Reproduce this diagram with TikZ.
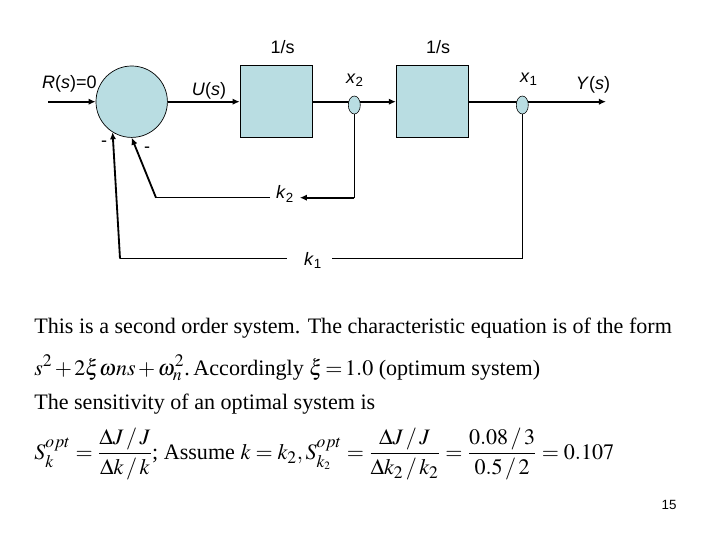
\documentclass[tikz,border=0pt]{standalone}
\usepackage{amsmath}
\usepackage{mathptmx}
\usepackage{fontspec}
\setmainfont{Liberation Serif}
\newfontfamily\labelfont{Liberation Sans}
\usepackage{tikz}
\usetikzlibrary{arrows.meta,shapes.geometric}
\definecolor{blockblue}{HTML}{B9DDE2}
\DeclareMathSizes{15.7}{15.7}{12.5}{8}
\newcommand{\sub}[1]{\textsubscript{\upshape #1}}
\tikzset{
  blockbox/.style={draw,fill=blockblue,line width=0.6pt,minimum width=1.81cm,minimum height=1.8cm,inner sep=0pt},
  sumnode/.style={draw,circle,fill=blockblue,line width=0.5pt,minimum size=1.785cm,inner sep=0pt},
  tapnode/.style={draw,ellipse,fill=blockblue,line width=0.4pt,minimum width=0.3cm,minimum height=0.45cm,inner sep=0pt},
  sigline/.style={line width=1.3pt,-{Latex[length=5pt,width=4.5pt]}},
  fbline/.style={line width=0.7pt},
  difflabel/.style={font=\labelfont\fontsize{12.8}{14}\selectfont,inner sep=0pt},
  bodytext/.style={anchor=base west,font=\fontsize{15.7}{18}\selectfont,inner sep=0pt}
}
\thickmuskip=2mu
\medmuskip=2mu
\begin{document}
\begin{tikzpicture}[x=0.025cm,y=-0.025cm]
  \useasboundingbox (0,0) rectangle (720,540);
  \node[sumnode] (sum) at (131.7,101.7) {};
  \node[blockbox] (box1) at (276.3,101.7) {};
  \node[blockbox] (box2) at (432.5,101.7) {};
  \coordinate (in) at (48,101.7);
  \coordinate (out) at (606,101.7);
  \draw[sigline] (in) -- (sum);
  \draw[sigline] (sum) -- (box1);
  \draw[sigline] (box1) -- (box2);
  \draw[sigline] (box2) -- (out);
  \node[tapnode] (tap2) at (354.3,105) {};
  \node[tapnode] (tap1) at (522.3,105) {};
  % labels
  \node[difflabel] (r) at (69.5,84) {\textit{R}(\textit{s})=0};
  \node[difflabel] (u) at (209,91) {\textit{U}(\textit{s})};
  \node[difflabel] (g1) at (282.5,47) {1/s};
  \node[difflabel] (g2) at (438,47) {1/s};
  \node[difflabel] (x2) at (355,80) {\textit{x}\sub{2}};
  \node[difflabel] (x1) at (529,79) {\textit{x}\sub{1}};
  \node[difflabel] (y) at (593,85) {\textit{Y}(\textit{s})};
  \node[difflabel] (m1) at (104,144) {-};
  \node[difflabel] (m2) at (147,150) {-};
  % feedback from x2
  \node[difflabel,inner sep=4pt] (k2) at (285,194) {\textit{k}\sub{2}};
  \coordinate (c2a) at (354.3,197.7);
  \coordinate (c2b) at (156,197.7);
  \draw[fbline] (tap2) -- (c2a);
  \draw[sigline] (c2a) -- (k2.east |- c2a);
  \draw[fbline] (k2.west |- c2b) -- (c2b);
  \draw[sigline] (c2b) -- (sum.south);
  % feedback from x1
  \node[difflabel] (k1) at (313,260) {\textit{k}\sub{1}};
  \coordinate (c1a) at (522.3,258.5);
  \coordinate (c1b) at (120,258.5);
  \draw[fbline] (tap1) -- (c1a);
  \draw[fbline,shorten >=7pt] (c1a) -- (k1.east |- c1a);
  \draw[fbline,shorten >=12pt] (c1b) -- (k1.west |- c1b);
  \draw[sigline] (c1b) -- (sum.238);
  % text below the diagram
  \node[bodytext] (l1) at (34,333) {This is a second order system. The characteristic equation is of the form};
  \node[bodytext] (l2) at (34,375) {$s^2+2\xi\omega ns+\omega_n^2$.\,Accordingly $\xi=1.0$ (optimum system)};
  \node[bodytext] (l3) at (34,409) {The sensitivity of an optimal system is};
  \node[bodytext,execute at begin node={\thickmuskip=4mu}] (l4) at (34,459) {$\displaystyle S_k^{opt}=\frac{\Delta J\,/\,J}{\Delta k\,/\,k}$; Assume $\displaystyle k=k_2, S_{k_2}^{opt}=\frac{\Delta J\,/\,J}{\Delta k_2\,/\,k_2}=\frac{0.08\,/\,3}{0.5\,/\,2}=0.107$};
  \node[difflabel,font=\labelfont\fontsize{9.5}{11}\selectfont] (page) at (669,505) {15};
\end{tikzpicture}
\end{document}
